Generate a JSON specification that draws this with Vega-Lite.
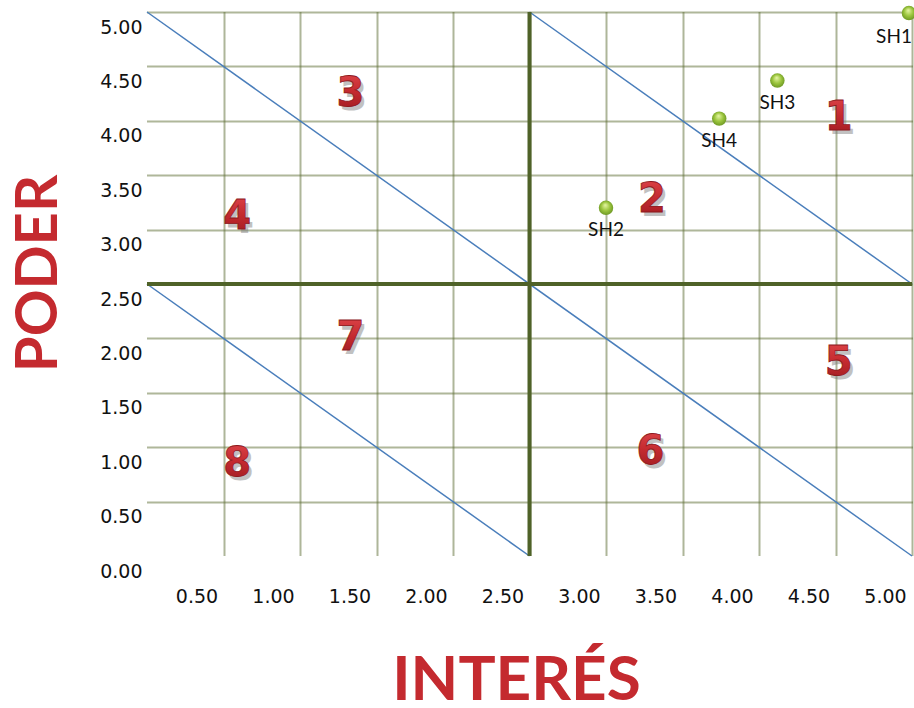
{
  "$schema": "https://vega.github.io/schema/vega-lite/v6.json",
  "width": 765,
  "height": 544,
  "autosize": {"type": "none"},
  "padding": {"left": 147, "top": 12, "right": 2, "bottom": 152},
  "background": "white",
  "config": {"view": {"stroke": null}},
  "datasets": {
    "diag": [
      {"line": "a", "x": 0, "y": 5}, {"line": "a", "x": 5, "y": 0},
      {"line": "b", "x": 2.5, "y": 5}, {"line": "b", "x": 5, "y": 2.5},
      {"line": "c", "x": 0, "y": 2.5}, {"line": "c", "x": 2.5, "y": 0}
    ],
    "pts": [
      {"name": "SH1", "x": 4.98, "y": 4.99},
      {"name": "SH2", "x": 3.0, "y": 3.2},
      {"name": "SH3", "x": 4.12, "y": 4.37},
      {"name": "SH4", "x": 3.74, "y": 4.02}
    ],
    "zones": [
      {"n": "1", "x": 4.52, "y": 4.03},
      {"n": "2", "x": 3.3, "y": 3.27},
      {"n": "3", "x": 1.33, "y": 4.25},
      {"n": "4", "x": 0.59, "y": 3.12},
      {"n": "5", "x": 4.52, "y": 1.77},
      {"n": "6", "x": 3.29, "y": 0.96},
      {"n": "7", "x": 1.33, "y": 2.0},
      {"n": "8", "x": 0.59, "y": 0.85}
    ],
    "mid": [{"v": 2.5}]
  },
  "layer": [
    {
      "data": {"name": "diag"},
      "mark": {"type": "line", "color": "#4a7ebb", "strokeWidth": 1.5},
      "encoding": {
        "x": {
          "field": "x", "type": "quantitative",
          "scale": {"domain": [0, 5], "nice": false, "zero": false},
          "axis": {
            "values": [0.5, 1, 1.5, 2, 2.5, 3, 3.5, 4, 4.5, 5],
            "format": ".2f",
            "domain": false, "ticks": false,
            "grid": true, "gridColor": "#5e6e35", "gridWidth": 2, "gridDash": [1, 1],
            "labelFont": "DejaVu Sans", "labelFontSize": 19, "labelColor": "#111111",
            "labelOffset": -27, "labelPadding": 31, "labelFlush": false,
            "title": "INTERÉS", "titleFont": "Lato", "titleFontSize": 62, "titleFontWeight": "bold",
            "titleColor": "#c42a2f", "titleBaseline": "alphabetic", "titleX": 369, "titleY": 143
          }
        },
        "y": {
          "field": "y", "type": "quantitative",
          "scale": {"domain": [0, 5], "nice": false, "zero": false},
          "axis": {
            "values": [0, 0.5, 1, 1.5, 2, 2.5, 3, 3.5, 4, 4.5, 5],
            "format": ".2f",
            "domain": false, "ticks": false,
            "grid": true, "gridColor": "#5e6e35", "gridWidth": 2, "gridDash": [1, 1],
            "gridOpacity": {"condition": {"test": "datum.value == 0", "value": 0}, "value": 1},
            "labelFont": "DejaVu Sans", "labelFontSize": 19, "labelColor": "#111111",
            "labelOffset": 15, "labelPadding": 5, "labelFlush": false,
            "title": "PODER", "titleFont": "Lato", "titleFontSize": 58, "titleFontWeight": "bold",
            "titleColor": "#c42a2f", "titleAngle": -90, "titleBaseline": "alphabetic",
            "titleAlign": "center", "titleX": -91, "titleY": 261
          }
        },
        "detail": {"field": "line"}
      }
    },
    {
      "data": {"name": "mid"},
      "mark": {"type": "rule", "color": "#4f6228", "strokeWidth": 4},
      "encoding": {"x": {"field": "v", "type": "quantitative"}}
    },
    {
      "data": {"name": "mid"},
      "mark": {"type": "rule", "color": "#4f6228", "strokeWidth": 4},
      "encoding": {"y": {"field": "v", "type": "quantitative"}}
    },
    {
      "data": {"name": "zones"},
      "mark": {"type": "text", "font": "DejaVu Sans", "fontWeight": "bold", "fontSize": 40,
               "baseline": "middle", "align": "center", "dx": 3, "dy": 4,
               "color": "#777777", "opacity": 0.45},
      "encoding": {
        "x": {"field": "x", "type": "quantitative"},
        "y": {"field": "y", "type": "quantitative"},
        "text": {"field": "n"}
      }
    },
    {
      "data": {"name": "zones"},
      "mark": {"type": "text", "font": "DejaVu Sans", "fontWeight": "bold", "fontSize": 40,
               "baseline": "middle", "align": "center",
               "fill": {"gradient": "linear", "x1": 0, "y1": 0, "x2": 0, "y2": 1,
                        "stops": [{"offset": 0, "color": "#e0474c"}, {"offset": 0.5, "color": "#c42a2f"}, {"offset": 1, "color": "#9c1b20"}]},
               "stroke": "#8e1a1e", "strokeWidth": 0.8},
      "encoding": {
        "x": {"field": "x", "type": "quantitative"},
        "y": {"field": "y", "type": "quantitative"},
        "text": {"field": "n"}
      }
    },
    {
      "data": {"name": "pts"},
      "mark": {"type": "point", "shape": "circle", "size": 210, "filled": true, "opacity": 1,
               "fill": {"gradient": "radial", "x1": 0.45, "y1": 0.3, "r1": 0, "x2": 0.5, "y2": 0.5, "r2": 0.6,
                        "stops": [{"offset": 0, "color": "#e8f7a8"}, {"offset": 0.5, "color": "#9cc63e"}, {"offset": 1, "color": "#5f8a1d"}]}},
      "encoding": {
        "x": {"field": "x", "type": "quantitative"},
        "y": {"field": "y", "type": "quantitative"}
      }
    },
    {
      "data": {"name": "pts"},
      "transform": [{"filter": "datum.name != 'SH1'"}],
      "mark": {"type": "text", "font": "Lato", "fontSize": 19, "color": "#111111",
               "baseline": "middle", "align": "center", "dy": 22},
      "encoding": {
        "x": {"field": "x", "type": "quantitative"},
        "y": {"field": "y", "type": "quantitative"},
        "text": {"field": "name"}
      }
    },
    {
      "data": {"name": "pts"},
      "transform": [{"filter": "datum.name == 'SH1'"}],
      "mark": {"type": "text", "font": "Lato", "fontSize": 19, "color": "#111111",
               "baseline": "middle", "align": "right", "dx": 3, "dy": 24},
      "encoding": {
        "x": {"field": "x", "type": "quantitative"},
        "y": {"field": "y", "type": "quantitative"},
        "text": {"field": "name"}
      }
    }
  ]
}
